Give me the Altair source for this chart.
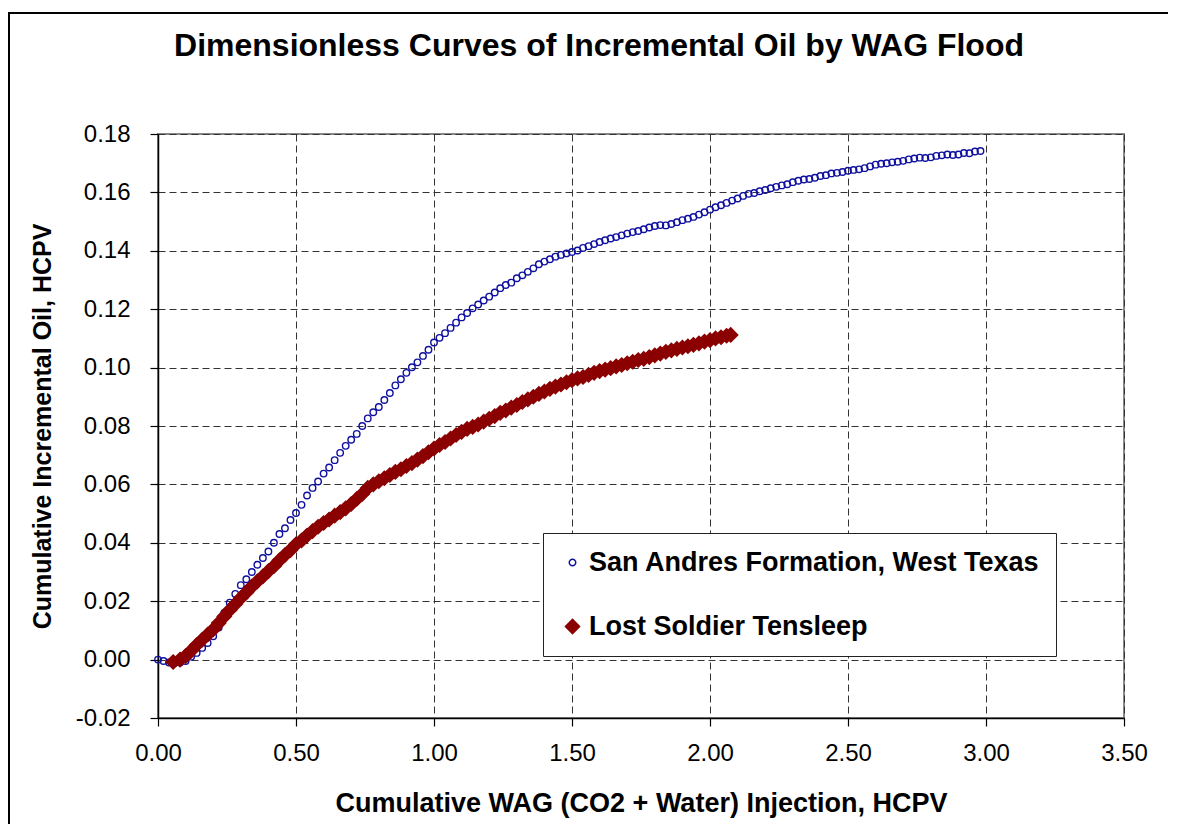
import altair as alt
import pandas as pd

# San Andres Formation, West Texas (hollow blue circles)
sa_x = [0.00, 0.02, 0.04, 0.06, 0.08, 0.10, 0.12, 0.14, 0.16, 0.18,
        0.20, 0.22, 0.24, 0.26, 0.28, 0.30, 0.32, 0.34, 0.36, 0.38,
        0.40, 0.42, 0.44, 0.46, 0.48, 0.50, 0.52, 0.54, 0.56, 0.58,
        0.60, 0.62, 0.64, 0.66, 0.68, 0.70, 0.72, 0.74, 0.76, 0.78,
        0.80, 0.82, 0.84, 0.86, 0.88, 0.90, 0.92, 0.94, 0.96, 0.98,
        1.00, 1.02, 1.04, 1.06, 1.08, 1.10, 1.12, 1.14, 1.16, 1.18,
        1.20, 1.22, 1.24, 1.26, 1.28, 1.30, 1.32, 1.34, 1.36, 1.38,
        1.40, 1.42, 1.44, 1.46, 1.48, 1.50, 1.52, 1.54, 1.56, 1.58,
        1.60, 1.62, 1.64, 1.66, 1.68, 1.70, 1.72, 1.74, 1.76, 1.78,
        1.80, 1.82, 1.84, 1.86, 1.88, 1.90, 1.92, 1.94, 1.96, 1.98,
        2.00, 2.02, 2.04, 2.06, 2.08, 2.10, 2.12, 2.14, 2.16, 2.18,
        2.20, 2.22, 2.24, 2.26, 2.28, 2.30, 2.32, 2.34, 2.36, 2.38,
        2.40, 2.42, 2.44, 2.46, 2.48, 2.50, 2.52, 2.54, 2.56, 2.58,
        2.60, 2.62, 2.64, 2.66, 2.68, 2.70, 2.72, 2.74, 2.76, 2.78,
        2.80, 2.82, 2.84, 2.86, 2.88, 2.90, 2.92, 2.94, 2.96, 2.98]
sa_y = [0.0000, -0.0005, -0.0010, -0.0012, -0.0010, -0.0005, 0.0010, 0.0023, 0.0040, 0.0057,
        0.0080, 0.0110, 0.0160, 0.0195, 0.0225, 0.0255, 0.0275, 0.0300, 0.0325, 0.0348,
        0.0370, 0.0400, 0.0430, 0.0450, 0.0478, 0.0502, 0.0530, 0.0562, 0.0588, 0.0610,
        0.0637, 0.0658, 0.0683, 0.0708, 0.0732, 0.0753, 0.0773, 0.0800, 0.0826, 0.0847,
        0.0865, 0.0889, 0.0913, 0.0939, 0.0960, 0.0982, 0.1001, 0.1018, 0.1040, 0.1061,
        0.1086, 0.1102, 0.1118, 0.1136, 0.1154, 0.1172, 0.1187, 0.1203, 0.1216, 0.1230,
        0.1243, 0.1257, 0.1272, 0.1283, 0.1291, 0.1306, 0.1316, 0.1328, 0.1340, 0.1354,
        0.1363, 0.1371, 0.1380, 0.1386, 0.1391, 0.1396, 0.1401, 0.1410, 0.1416, 0.1423,
        0.1430, 0.1436, 0.1442, 0.1447, 0.1453, 0.1459, 0.1464, 0.1468, 0.1474, 0.1480,
        0.1485, 0.1488, 0.1487, 0.1492, 0.1498, 0.1505, 0.1510, 0.1516, 0.1524, 0.1532,
        0.1541, 0.1549, 0.1556, 0.1564, 0.1572, 0.1579, 0.1588, 0.1595, 0.1598, 0.1604,
        0.1608, 0.1614, 0.1619, 0.1624, 0.1628, 0.1635, 0.1640, 0.1644, 0.1646, 0.1650,
        0.1656, 0.1659, 0.1665, 0.1667, 0.1670, 0.1674, 0.1677, 0.1679, 0.1683, 0.1689,
        0.1695, 0.1698, 0.1700, 0.1703, 0.1705, 0.1708, 0.1713, 0.1716, 0.1719, 0.1718,
        0.1720, 0.1725, 0.1727, 0.1730, 0.1728, 0.1730, 0.1735, 0.1734, 0.1740, 0.1742]

# Lost Soldier Tensleep (filled dark red diamonds)
ls_x = [0.055, 0.08, 0.10, 0.12, 0.14, 0.16, 0.18, 0.20, 0.22, 0.24,
        0.26, 0.28, 0.30, 0.32, 0.34, 0.36, 0.38, 0.40, 0.42, 0.44,
        0.46, 0.48, 0.50, 0.52, 0.54, 0.56, 0.58, 0.60, 0.62, 0.64,
        0.66, 0.68, 0.70, 0.72, 0.74, 0.76, 0.78, 0.80, 0.82, 0.84,
        0.86, 0.88, 0.90, 0.92, 0.94, 0.96, 0.98, 1.00, 1.02, 1.04,
        1.06, 1.08, 1.10, 1.12, 1.14, 1.16, 1.18, 1.20, 1.22, 1.24,
        1.26, 1.28, 1.30, 1.32, 1.34, 1.36, 1.38, 1.40, 1.42, 1.44,
        1.46, 1.48, 1.50, 1.52, 1.54, 1.56, 1.58, 1.60, 1.62, 1.64,
        1.66, 1.68, 1.70, 1.72, 1.74, 1.76, 1.78, 1.80, 1.82, 1.84,
        1.86, 1.88, 1.90, 1.92, 1.94, 1.96, 1.98, 2.00, 2.02, 2.04,
        2.06, 2.075]
ls_y = [-0.0008, 0.0000, 0.0012, 0.0030, 0.0050, 0.0068, 0.0086, 0.0103, 0.0125, 0.0148,
        0.0170, 0.0190, 0.0211, 0.0230, 0.0250, 0.0268, 0.0285, 0.0303, 0.0320, 0.0340,
        0.0358, 0.0375, 0.0395, 0.0408, 0.0425, 0.0440, 0.0455, 0.0468, 0.0480, 0.0493,
        0.0505, 0.0518, 0.0533, 0.0550, 0.0567, 0.0588, 0.0600, 0.0611, 0.0621, 0.0632,
        0.0643, 0.0652, 0.0663, 0.0673, 0.0685, 0.0697, 0.0710, 0.0723, 0.0735, 0.0745,
        0.0757, 0.0769, 0.0780, 0.0790, 0.0797, 0.0805, 0.0815, 0.0825, 0.0834, 0.0845,
        0.0853, 0.0863, 0.0872, 0.0882, 0.0891, 0.0900, 0.0910, 0.0918, 0.0927, 0.0935,
        0.0942, 0.0950, 0.0957, 0.0963, 0.0968, 0.0975, 0.0982, 0.0988, 0.0993, 0.0998,
        0.1004, 0.1009, 0.1015, 0.1020, 0.1026, 0.1030, 0.1036, 0.1042, 0.1048, 0.1054,
        0.1059, 0.1064, 0.1069, 0.1073, 0.1078, 0.1083, 0.1089, 0.1094, 0.1100, 0.1104,
        0.1109, 0.1112]

series_names = ["San Andres Formation, West Texas", "Lost Soldier Tensleep"]
x_ticks = [0.0, 0.5, 1.0, 1.5, 2.0, 2.5, 3.0, 3.5]
y_ticks = [-0.02, 0.0, 0.02, 0.04, 0.06, 0.08, 0.10, 0.12, 0.14, 0.16, 0.18]

df = pd.concat([
    pd.DataFrame({"x": sa_x, "y": sa_y, "series": series_names[0]}),
    pd.DataFrame({"x": ls_x, "y": ls_y, "series": series_names[1]}),
], ignore_index=True)

FONT = "Liberation Sans"
LABEL_EXPR = "replace(format(datum.value, '.2f'), '\u2212', '-')"

points = alt.Chart(df).mark_point(strokeWidth=1.4, opacity=1).encode(
    x=alt.X("x:Q", scale=alt.Scale(domain=[0, 3.5], nice=False),
            axis=alt.Axis(values=x_ticks, labelExpr=LABEL_EXPR, labelFlush=False,
                          title="Cumulative WAG (CO2 + Water) Injection, HCPV",
                          titleX=483, titleY=85, titleBaseline="middle",
                          titleFontSize=27, labelPadding=15)),
    y=alt.Y("y:Q", scale=alt.Scale(domain=[-0.02, 0.18], nice=False),
            axis=alt.Axis(values=y_ticks, labelExpr=LABEL_EXPR, labelFlush=False,
                          title="Cumulative Incremental Oil, HCPV",
                          titleX=-116, titleY=292, titleAngle=270,
                          titleBaseline="middle", titleAlign="center",
                          titleFontSize=25, labelPadding=20)),
    shape=alt.Shape("series:N", scale=alt.Scale(domain=series_names, range=["circle", "diamond"]),
                    legend=alt.Legend(title=None)),
    stroke=alt.Stroke("series:N", scale=alt.Scale(domain=series_names, range=["#1010A0", "#8B0000"]),
                      legend=alt.Legend(title=None)),
    fill=alt.Fill("series:N", scale=alt.Scale(domain=series_names, range=["transparent", "#8B0000"]),
                  legend=alt.Legend(title=None)),
    size=alt.Size("series:N", scale=alt.Scale(type="ordinal", domain=series_names, range=[42, 200]),
                  legend=alt.Legend(title=None)),
    order=alt.Order("series:N", sort="descending"),
)

frame = alt.Chart(pd.DataFrame({"a": [0]})).mark_rect(
    fill="transparent", stroke="#000000", strokeWidth=2, clip=False
).encode(
    x=alt.value(-149), x2=alt.value(1200),
    y=alt.value(-121), y2=alt.value(900),
)

chart = alt.layer(frame, points).properties(
    width=966, height=584,
    padding={"left": 150, "top": 126, "right": 44, "bottom": 106},
    autosize=alt.AutoSizeParams(type="none"),
    title=alt.TitleParams(
        "Dimensionless Curves of Incremental Oil by WAG Flood",
        font=FONT, fontSize=32, fontWeight="bold", color="#000000",
        anchor="middle", frame="group", offset=-51, dx=-42,
    ),
).configure_view(
    stroke="#888888", strokeWidth=2,
).configure_axis(
    labelFont=FONT, labelFontSize=24, labelColor="#000000",
    titleFont=FONT, titleFontWeight="bold", titleColor="#000000",
    domainColor="#000000", domainWidth=1.5,
    tickColor="#000000", tickSize=8, tickWidth=1.2,
    grid=True, gridColor="#333333", gridDash=[7, 4], gridWidth=1,
).configure_legend(
    orient="none", legendX=385, legendY=399,
    padding=16, strokeColor="#222222", fillColor="#FFFFFF",
    labelFont=FONT, labelFontSize=27, labelFontWeight="bold", labelColor="#000000",
    rowPadding=36, labelOffset=3, symbolStrokeWidth=1.5, labelLimit=600,
    cornerRadius=0,
)

chart.save("out.html", embed_options={"renderer": "svg", "actions": False})
